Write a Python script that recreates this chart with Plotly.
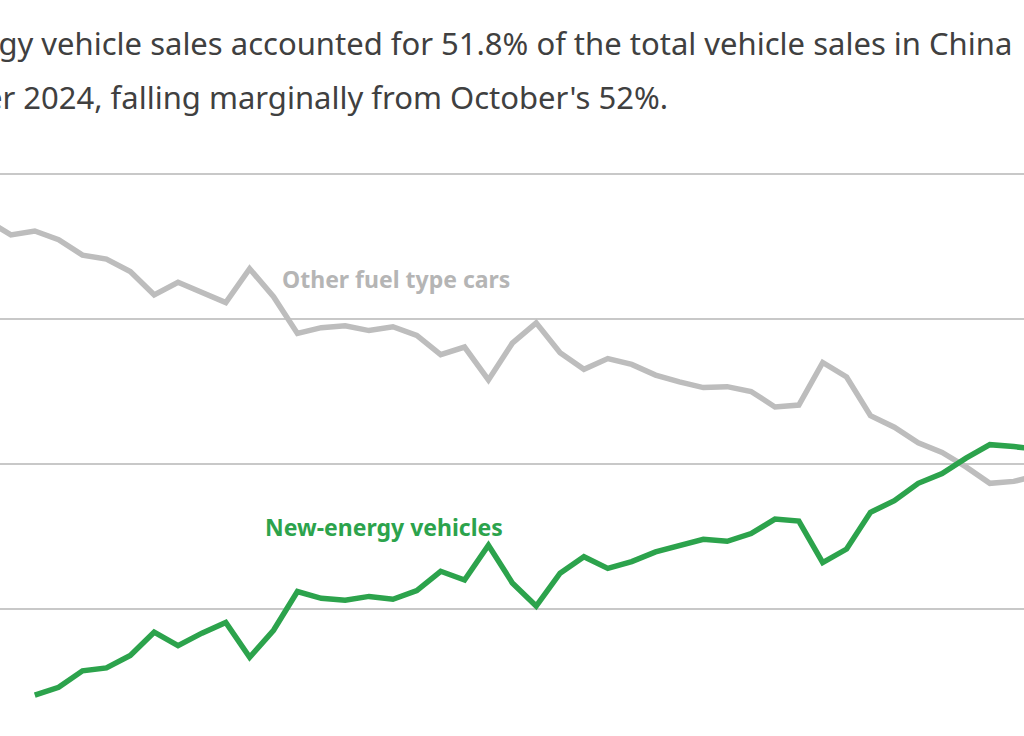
import plotly.graph_objects as go

# Monthly categories (Apr 2021 .. Dec 2024)
months = []
for y in range(2021, 2025):
    for m in range(1, 13):
        if (y == 2021 and m < 4):
            continue
        months.append(f"{y}-{m:02d}")

# Share of total vehicle sales, %
other_fuel = [75.2, 73.7, 74.1, 73.2, 71.6, 71.2, 69.9, 67.5, 68.8, 67.7,
              66.7, 70.2, 67.3, 63.5, 64.1, 64.3, 63.8, 64.2, 63.3, 61.3,
              62.1, 58.7, 62.5, 64.6, 61.5, 59.8, 60.9, 60.3, 59.2, 58.5,
              57.9, 58.0, 57.5, 55.9, 56.1, 60.5, 59.0, 55.0, 53.8, 52.2,
              51.2, 49.7, 48.0, 48.2, 48.8]
new_energy = [None, None, 26.1, 26.9, 28.6, 28.9, 30.2, 32.6, 31.2, 32.5,
              33.6, 30.0, 32.8, 36.8, 36.1, 35.9, 36.3, 36.0, 36.9, 38.9,
              38.0, 41.6, 37.7, 35.3, 38.7, 40.4, 39.2, 39.9, 40.9, 41.6,
              42.2, 42.0, 42.8, 44.3, 44.1, 39.8, 41.2, 45.0, 46.2, 48.0,
              49.0, 50.6, 52.0, 51.8, 51.5]

grid_vals = [35, 50, 65, 80]

subtitle_1 = "New-energy vehicle sales accounted for 51.8% of the total vehicle sales in China"
subtitle_2 = "November 2024, falling marginally from October's 52%."

GRAY = "#bdbdbd"
GREEN = "#2ca34c"

fig = go.Figure()
fig.add_trace(go.Scatter(x=months, y=other_fuel, mode="lines",
                         line=dict(color=GRAY, width=5.5), name="Other fuel type cars"))
fig.add_trace(go.Scatter(x=months, y=new_energy, mode="lines",
                         line=dict(color=GREEN, width=5.5), name="New-energy vehicles",
                         connectgaps=False))

W, H, T = 1024, 736, 150
def px_x(p):
    return p / W
def px_y(p):
    return (H - p) / (H - T)

fig.add_annotation(x=11.57, y=43.5, xref="x", yref="y", text="<b>New-energy vehicles</b>",
                   showarrow=False, xanchor="left", yanchor="middle",
                   font=dict(family="Noto Sans", size=23, color=GREEN))
fig.add_annotation(x=12.27, y=69.1, xref="x", yref="y", text="<b>Other fuel type cars</b>",
                   showarrow=False, xanchor="left", yanchor="middle",
                   font=dict(family="Noto Sans", size=23, color="#b5b5b5"))

fig.add_annotation(x=px_x(-145), y=px_y(43), xref="paper", yref="paper", text=subtitle_1,
                   showarrow=False, xanchor="left", yanchor="middle",
                   font=dict(family="Noto Sans", size=31, color="#404040"))
fig.add_annotation(x=px_x(-140), y=px_y(97), xref="paper", yref="paper", text=subtitle_2,
                   showarrow=False, xanchor="left", yanchor="middle",
                   font=dict(family="Noto Sans", size=31, color="#404040"))

fig.update_layout(
    width=W, height=H,
    margin=dict(l=0, r=0, t=T, b=0),
    plot_bgcolor="white", paper_bgcolor="white",
    showlegend=False,
    xaxis=dict(type="category", range=[0.544, 43.43], showgrid=False, showticklabels=False,
               zeroline=False, showline=False, ticks=""),
    yaxis=dict(range=[21.86, 82.48], tickvals=grid_vals, showticklabels=False,
               gridcolor="#c8c8c8", gridwidth=1.5, zeroline=False, showline=False, ticks=""),
)

fig.write_html("out.html")
